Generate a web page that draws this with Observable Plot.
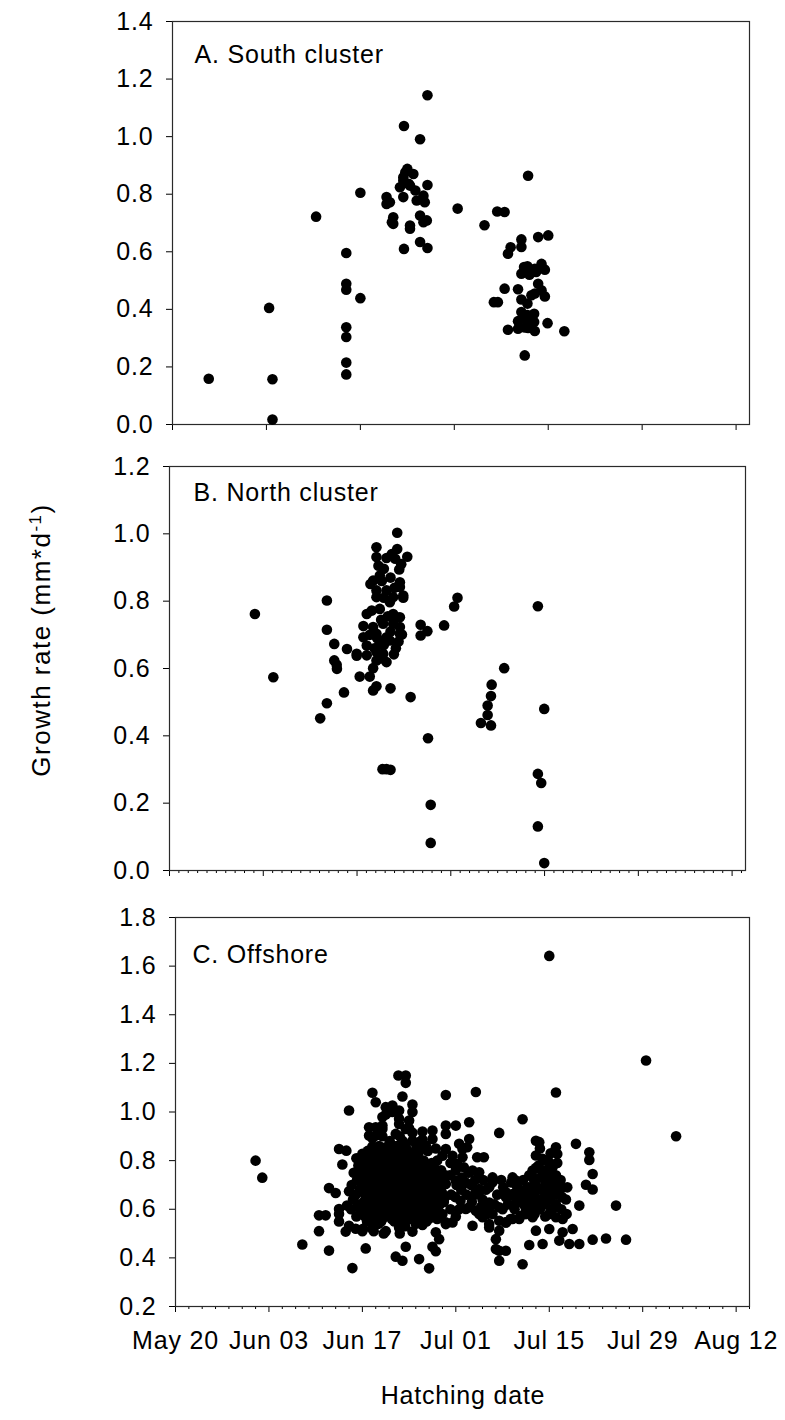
<!DOCTYPE html>
<html>
<head>
<meta charset="utf-8">
<script src="https://cdn.jsdelivr.net/npm/d3@7"></script>
<script src="https://cdn.jsdelivr.net/npm/@observablehq/plot@0.6"></script>
<style>
  body { margin: 0; background: #fff; }
  #fig { position: relative; width: 785px; height: 1420px; font-family: "Liberation Sans", Arial, sans-serif; color: #000; }
  #fig .panel { position: absolute; left: 0; }
  #fig .axis-title { position: absolute; font-size: 25px; line-height: 25px; letter-spacing: 0.8px; white-space: nowrap; text-align: center; }
  #fig .axis-title.y { font-size: 26px; line-height: 26px; letter-spacing: 1.5px; }
  #fig .axis-title sup { font-size: 17px; line-height: 0; vertical-align: 0.55em; }
</style>
</head>
<body>
<div id="fig"></div>
<script>
// Hatching date is stored as days after May 20; growth rate in mm per day.
const seasonLengthDays = 86;
const majorTickDays = [0, 14, 28, 42, 56, 70, 84];
const majorTickLabels = ["May 20", "Jun 03", "Jun 17", "Jul 01", "Jul 15", "Jul 29", "Aug 12"];

const yTicksSouth = [0.0, 0.2, 0.4, 0.6, 0.8, 1.0, 1.2, 1.4];
const yTicksNorth = [0.0, 0.2, 0.4, 0.6, 0.8, 1.0, 1.2];
const yTicksOffshore = [0.2, 0.4, 0.6, 0.8, 1.0, 1.2, 1.4, 1.6, 1.8];

const panelTitles = ["A. South cluster", "B. North cluster", "C. Offshore"];

// [day after May 20, growth rate]
const southCluster = [
  [5.4,0.159],[14.4,0.405],[14.9,0.157],[14.9,0.017],[21.4,0.722],
  [25.9,0.596],[25.9,0.489],[25.9,0.468],[25.9,0.338],[25.9,0.304],[25.9,0.215],[25.9,0.174],
  [28.0,0.805],[28.0,0.439],
  [34.5,1.037],[38.0,1.144],[36.9,0.991],[35.0,0.888],[34.7,0.876],[35.9,0.870],[34.4,0.859],[34.4,0.847],
  [38.0,0.832],[33.9,0.824],[35.4,0.830],[36.2,0.813],[34.4,0.790],[31.9,0.790],[32.4,0.772],[31.9,0.766],
  [37.4,0.795],[36.4,0.778],[37.6,0.772],[32.9,0.720],[32.7,0.703],[32.9,0.697],[35.4,0.691],[35.4,0.680],
  [36.9,0.726],[37.9,0.709],[37.4,0.703],[34.5,0.610],[36.9,0.634],[38.0,0.613],[35.2,0.836],
  [42.5,0.750],[46.5,0.692],[48.4,0.740],[49.5,0.738],[53.0,0.864],
  [52.0,0.643],[54.5,0.651],[56.0,0.657],[50.4,0.616],[52.0,0.617],[50.0,0.593],[52.9,0.550],[52.4,0.547],
  [55.0,0.558],[55.5,0.538],[54.0,0.541],[52.0,0.524],[54.5,0.489],[49.5,0.472],[51.5,0.470],[55.0,0.466],
  [55.5,0.445],[53.5,0.449],[54.0,0.455],[52.0,0.434],[47.9,0.425],[48.5,0.425],[52.9,0.420],[52.0,0.391],
  [53.9,0.385],[52.5,0.368],[51.5,0.359],[53.9,0.356],[55.9,0.352],[50.0,0.329],[51.5,0.333],[52.5,0.337],
  [54.0,0.325],[58.4,0.324],[52.5,0.240],[52.9,0.380],[53.4,0.350],[53.0,0.335],[53.2,0.520],[54.2,0.530]
];

const northCluster = [
  [12.75,0.762],[15.5,0.574],[22.5,0.452],[23.5,0.497],[23.5,0.802],[23.5,0.715],[24.6,0.673],[24.6,0.624],
  [24.96,0.611],[25.0,0.599],[26.05,0.529],[26.5,0.658],[27.95,0.638],[28.4,0.576],[29.9,0.576],[30.4,0.601],
  [30.4,0.535],[30.9,0.547],[33.0,0.541],[36.0,0.515],[31.8,0.301],[32.4,0.301],[33.0,0.299],[38.6,0.393],
  [39.0,0.195],[39.0,0.082],[37.5,0.730],[37.5,0.698],[38.5,0.711],[41.0,0.728],[42.5,0.784],[43.0,0.810],
  [46.5,0.438],[48.0,0.431],[47.5,0.462],[47.5,0.490],[48.0,0.518],[48.1,0.552],[49.97,0.601],
  [55.0,0.785],[55.95,0.480],[55.0,0.287],[55.5,0.260],[55.0,0.131],[55.95,0.022],
  [34.0,1.003],[30.9,0.960],[34.0,0.955],[30.9,0.931],[32.4,0.928],[35.5,0.932],[33.7,0.926],[32.0,0.896],
  [34.3,0.894],[31.4,0.876],[30.4,0.861],[30.0,0.851],[34.4,0.856],[30.9,0.832],[32.4,0.832],[34.9,0.810],
  [33.4,0.812],[30.9,0.812],[32.9,0.797],[29.45,0.762],[30.2,0.772],[31.4,0.777],[33.4,0.762],[33.9,0.752],
  [28.95,0.726],[30.4,0.723],[31.9,0.733],[33.4,0.733],[34.4,0.723],[28.95,0.693],[30.9,0.703],[32.4,0.693],
  [34.7,0.701],[29.45,0.668],[31.4,0.673],[32.9,0.683],[27.95,0.644],[29.45,0.639],[30.9,0.649],[31.9,0.644],
  [33.5,0.642],[32.4,0.619],[30.9,0.624],[34.4,0.842],[34.9,0.817],[34.4,0.752],[34.4,0.703],
  [31.6,0.745],[32.6,0.755],[31.0,0.690],[32.0,0.670],[33.0,0.710],[29.9,0.700],[30.6,0.660],[31.7,0.860],
  [33.0,0.870],[32.0,0.810],[33.6,0.840],[31.2,0.905],[33.2,0.940],[34.6,0.910],[31.8,0.630],[33.8,0.660],[34.2,0.680]
];

const offshore = [
  // early hatchers
  [12.0,0.800],[13.0,0.730],[19.0,0.455],[21.5,0.575],[22.5,0.575],[21.5,0.510],[23.0,0.430],[23.0,0.687],
  [24.0,0.667],[24.5,0.848],[25.6,0.841],[25.0,0.784],[26.0,1.006],[24.5,0.601],[24.5,0.580],[24.5,0.550],
  [26.0,0.674],[25.7,0.615],[25.5,0.508],[26.0,0.532],[26.5,0.358],[28.5,0.439],
  // upper edge of the main cohort
  [28.0,0.828],[29.0,0.800],[29.5,1.079],[30.0,1.040],[29.0,0.937],[30.0,0.937],[31.0,0.930],[29.5,0.892],
  [30.0,0.828],[31.0,0.979],[31.5,1.020],[32.5,1.027],[33.5,1.006],[33.4,1.150],[34.5,1.150],[34.5,1.120],
  [34.0,1.064],[35.5,1.031],[33.5,0.951],[35.0,0.965],[34.5,0.930],[35.5,0.915],[37.0,0.920],[38.5,0.924],
  [36.5,0.876],[31.5,0.990],[32.5,1.000],[33.5,0.972],[35.5,1.000],[31.0,0.944],[35.0,0.933],[29.0,0.903],
  [30.0,0.903],[31.0,0.900],[33.0,0.910],[34.0,0.882],[35.5,0.882],[37.0,0.887],[38.5,0.889],[29.5,0.858],
  [31.5,0.855],[32.5,0.841],[34.5,0.855],[36.5,0.841],[37.5,0.862],[40.5,0.910],
  // lower edge of the main cohort
  [38.0,0.562],[37.0,0.535],[39.0,0.505],[39.5,0.477],[38.5,0.446],[39.0,0.427],[35.5,0.508],[34.5,0.446],
  [33.0,0.405],[34.0,0.388],[36.5,0.395],[38.0,0.357],[27.0,0.520],[28.0,0.510],[29.5,0.520],[31.5,0.510],
  [33.5,0.525],[30.2,0.540],
  // core of the main cohort
  [26.3,0.60],[26.6,0.64],[26.4,0.70],[26.7,0.75],
  [27.1,0.57],[27.3,0.62],[27.0,0.66],[27.2,0.72],[27.4,0.78],[27.1,0.81],
  [28.1,0.52],[27.9,0.59],[28.2,0.63],[28.0,0.68],[27.8,0.71],[28.1,0.74],[28.3,0.77],
  [28.7,0.55],[28.9,0.60],[28.6,0.65],[28.8,0.69],[29.0,0.73],[28.7,0.76],[28.9,0.80],[28.8,0.84],
  [29.7,0.51],[29.5,0.58],[29.8,0.62],[29.6,0.66],[29.4,0.70],[29.7,0.74],[29.6,0.78],[29.8,0.82],
  [30.4,0.54],[30.6,0.57],[30.3,0.61],[30.5,0.64],[30.2,0.68],[30.4,0.72],[30.6,0.75],[30.3,0.79],[30.5,0.86],
  [31.2,0.50],[31.0,0.56],[31.3,0.60],[31.1,0.63],[31.4,0.67],[31.2,0.71],[31.0,0.74],[31.3,0.77],[31.1,0.81],[31.4,0.84],
  [32.0,0.58],[32.2,0.62],[31.9,0.65],[32.1,0.69],[31.8,0.73],[32.0,0.76],[32.2,0.80],[31.9,0.83],[32.1,0.88],
  [32.8,0.55],[32.6,0.59],[32.9,0.63],[32.7,0.67],[33.0,0.70],[32.8,0.74],[32.6,0.78],[32.9,0.82],[32.7,0.86],
  [33.6,0.50],[33.8,0.57],[33.5,0.61],[33.7,0.65],[33.4,0.68],[33.6,0.72],[33.8,0.75],[33.5,0.79],[33.7,0.84],[33.6,0.90],
  [34.4,0.53],[34.2,0.58],[34.5,0.62],[34.3,0.66],[34.6,0.70],[34.4,0.73],[34.2,0.77],[34.5,0.81],[34.3,0.87],
  [35.2,0.56],[35.0,0.60],[35.3,0.64],[35.1,0.68],[35.4,0.71],[35.2,0.75],[35.0,0.79],[35.3,0.83],
  [36.0,0.54],[36.2,0.58],[35.9,0.62],[36.1,0.66],[35.8,0.69],[36.0,0.73],[36.2,0.77],[35.9,0.82],[36.1,0.86],
  [36.8,0.57],[36.6,0.61],[36.9,0.65],[36.7,0.70],[37.0,0.74],[36.8,0.78],[36.6,0.80],
  [37.6,0.55],[37.8,0.60],[37.5,0.63],[37.7,0.67],[37.4,0.72],[37.6,0.76],[37.8,0.84],
  [38.4,0.58],[38.2,0.62],[38.5,0.66],[38.3,0.70],[38.6,0.75],[38.4,0.79],
  [39.2,0.56],[39.0,0.60],[39.3,0.64],[39.1,0.69],[39.4,0.73],[39.2,0.80],[39.0,0.85],
  [40.0,0.58],[40.2,0.63],[39.9,0.67],[40.1,0.71],[39.8,0.76],[40.0,0.82],
  [27.6,0.60],[27.6,0.68],[27.7,0.75],
  [28.4,0.57],[28.4,0.66],[28.5,0.72],[28.3,0.80],
  [29.2,0.56],[29.2,0.63],[29.1,0.71],[29.3,0.77],
  [30.0,0.59],[30.0,0.66],[29.9,0.70],[30.0,0.77],[30.1,0.83],
  [30.8,0.55],[30.8,0.62],[30.9,0.66],[30.7,0.70],[30.8,0.79],[30.9,0.83],
  [31.6,0.58],[31.6,0.65],[31.7,0.69],[31.6,0.75],[31.6,0.79],
  [32.4,0.56],[32.4,0.61],[32.3,0.67],[32.5,0.71],[32.4,0.78],[32.4,0.84],
  [33.2,0.57],[33.2,0.61],[33.1,0.66],[33.3,0.72],[33.2,0.77],[33.2,0.86],
  [34.0,0.55],[34.0,0.60],[34.1,0.64],[33.9,0.70],[34.0,0.75],[34.0,0.80],
  [34.8,0.57],[34.8,0.63],[34.9,0.68],[34.7,0.72],[34.8,0.77],[34.8,0.84],
  [35.6,0.58],[35.6,0.62],[35.7,0.66],[35.5,0.71],[35.6,0.75],[35.6,0.80],
  [36.4,0.56],[36.4,0.60],[36.5,0.64],[36.3,0.68],[36.4,0.72],[36.4,0.76],[36.4,0.83],
  [37.2,0.59],[37.2,0.65],[37.3,0.69],[37.1,0.76],[37.2,0.80],
  [38.0,0.61],[38.0,0.65],[38.1,0.69],[37.9,0.73],[38.0,0.78],
  [38.8,0.60],[38.8,0.67],[38.8,0.72],[38.8,0.77],
  [39.6,0.62],[39.6,0.70],[39.6,0.75],[40.4,0.65],[40.4,0.74],
  // early July
  [40.5,1.070],[40.5,0.944],[42.0,0.944],[40.5,0.848],[40.5,0.546],[45.0,1.082],[48.5,0.914],[44.0,0.958],
  [44.0,0.889],[45.2,0.814],[46.2,0.814],[42.5,0.869],[43.0,0.848],[47.5,0.731],[47.5,0.711],[45.5,0.683],
  [45.5,0.670],[41.5,0.820],[43.0,0.814],[43.7,0.855],[42.2,0.786],[43.2,0.773],[44.5,0.759],[45.5,0.752],
  [42.0,0.718],[40.5,0.704],[42.7,0.635],[44.0,0.608],[45.0,0.594],[45.5,0.580],[46.0,0.567],[46.7,0.580],
  [47.0,0.628],[48.5,0.608],[49.5,0.649],[50.5,0.663],[45.0,0.676],[43.5,0.601],[41.5,0.546],[40.5,0.539],
  [47.0,0.525],[47.0,0.539],[44.5,0.532],[49.5,0.546],[48.5,0.553],[48.0,0.477],[48.5,0.512],[48.5,0.429],
  [48.0,0.436],[49.5,0.429],[48.5,0.388],[52.0,0.374],
  [41.2,0.60],[41.3,0.66],[41.1,0.74],[41.2,0.79],[42.0,0.57],[41.9,0.65],[42.1,0.70],[42.0,0.76],
  [42.8,0.68],[42.9,0.73],[43.6,0.66],[43.5,0.71],[44.4,0.63],[44.3,0.70],[46.0,0.64],[46.1,0.72],
  [47.0,0.69],[49.0,0.60],[49.1,0.69],
  [46.8,0.60],[47.8,0.62],[48.2,0.66],[49.8,0.62],[50.8,0.60],[51.2,0.69],[50.3,0.71],[48.8,0.72],
  [47.5,0.58],[46.5,0.68],[45.8,0.61],[44.8,0.66],[44.9,0.72],[43.9,0.75],[43.0,0.70],[42.5,0.60],
  // mid-July cohort
  [52.0,0.970],[54.0,0.882],[54.5,0.876],[57.0,0.855],[57.2,0.827],[54.0,0.821],[53.5,0.759],[53.5,0.731],
  [50.5,0.731],[51.0,0.718],[53.0,0.453],[55.0,0.457],[54.0,0.512],[56.0,0.519],[57.5,0.471],[58.0,0.505],
  [53.5,0.567],[51.5,0.560],[50.5,0.560],[49.5,0.546],[55.0,0.807],[56.0,0.793],[56.5,0.773],[55.0,0.759],
  [56.0,0.745],[57.0,0.731],[55.5,0.718],[56.5,0.704],[57.5,0.711],[57.7,0.683],[56.7,0.663],[55.7,0.676],
  [54.2,0.690],[53.2,0.670],[52.5,0.656],[51.5,0.656],[53.5,0.635],[54.5,0.615],[55.5,0.628],[56.5,0.601],
  [56.0,0.580],[57.0,0.567],[58.0,0.560],[52.5,0.601],[51.5,0.649],[49.5,0.670],[50.0,0.656],[51.0,0.628],
  [52.5,0.580],[51.7,0.573],[50.2,0.560],
  [52.2,0.62],[52.3,0.68],[52.1,0.72],[53.0,0.60],[53.1,0.64],[52.9,0.69],[53.0,0.74],
  [53.8,0.58],[53.9,0.62],[53.7,0.66],[53.8,0.71],[54.0,0.77],[54.6,0.60],[54.5,0.64],[54.7,0.68],
  [54.6,0.73],[54.4,0.78],[54.6,0.85],[55.4,0.57],[55.3,0.62],[55.5,0.66],[55.4,0.70],[55.2,0.75],
  [55.4,0.80],[56.2,0.59],[56.1,0.64],[56.3,0.68],[56.2,0.72],[56.0,0.77],[56.2,0.83],[57.0,0.62],
  [57.1,0.66],[56.9,0.70],[57.0,0.74],[57.2,0.79],[57.8,0.60],[57.9,0.65],[57.7,0.72],[58.6,0.58],
  [58.5,0.64],[58.7,0.69],
  // late hatchers
  [56.0,1.642],[57.0,1.080],[60.0,0.869],[62.0,0.834],[62.0,0.803],[62.5,0.745],[61.5,0.701],[62.5,0.681],
  [60.5,0.615],[66.0,0.615],[62.5,0.475],[64.5,0.480],[67.5,0.475],[59.5,0.519],[59.0,0.457],[60.5,0.457],
  [70.5,1.212],[75.0,0.900]
];

const FONT = '"Liberation Sans", Arial, Helvetica, sans-serif';
const DAY = 864e5;
const seasonStart = Date.UTC(2000, 4, 20);
const toDate = (d) => new Date(seasonStart + d * DAY);
const xDomain = [toDate(0), toDate(seasonLengthDays)];
const majorTicks = majorTickDays.map(toDate);
const tickLabelOf = new Map(majorTicks.map((t, i) => [+t, majorTickLabels[i]]));

function panel({points, yDomain, yTicks, title, height, mt, mb, ml, mr, titleDx, titleDy, minorPerInterval, showDates}) {
  const minor = [];
  if (minorPerInterval) {
    const step = 14 / (minorPerInterval + 1);
    for (let k = 1; k * step < seasonLengthDays + 1e-9; k++) {
      if (k % (minorPerInterval + 1) !== 0) minor.push(toDate(k * step));
    }
  }
  return Plot.plot({
    width: 785,
    height,
    marginTop: mt,
    marginBottom: mb,
    marginLeft: ml,
    marginRight: mr,
    style: {fontFamily: FONT, fontSize: "25px", letterSpacing: "0.8px", color: "#000", background: "transparent", overflow: "visible"},
    x: {type: "utc", domain: xDomain},
    y: {type: "linear", domain: yDomain},
    marks: [
      Plot.axisY({ticks: yTicks, tickSize: 6, tickPadding: 13, tickFormat: d3.format(".1f"), label: null, fontSize: 25}),
      Plot.axisX({ticks: majorTicks, tickSize: 6, tickPadding: 19, label: null, fontSize: 25,
        tickFormat: showDates ? (t) => tickLabelOf.get(+t) : () => ""}),
      minor.length ? Plot.axisX({ticks: minor, tickSize: 3, tickFormat: () => "", label: null}) : null,
      Plot.frame({stroke: "#2a2a2a", strokeWidth: 1.2}),
      Plot.dot(points, {x: (p) => toDate(p[0]), y: (p) => p[1], r: 5.3, fill: "#000", stroke: "none"}),
      Plot.text([title], {frameAnchor: "top-left", dx: titleDx, dy: titleDy, lineAnchor: "top", textAnchor: "start", fontSize: 25, fill: "#000"})
    ]
  });
}

const fig = document.getElementById("fig");

const panels = [
  {top: 0, opts: {points: southCluster, yDomain: [0, 1.4], yTicks: yTicksSouth, title: panelTitles[0], height: 440, mt: 21, mb: 16, ml: 172, mr: 36, titleDx: 22, titleDy: 24, minorPerInterval: 0, showDates: false}},
  {top: 440, opts: {points: northCluster, yDomain: [0, 1.2], yTicks: yTicksNorth, title: panelTitles[1], height: 440, mt: 26, mb: 10, ml: 169, mr: 40, titleDx: 24, titleDy: 17, minorPerInterval: 9, showDates: false}},
  {top: 880, opts: {points: offshore, yDomain: [0.2, 1.8], yTicks: yTicksOffshore, title: panelTitles[2], height: 540, mt: 37, mb: 114, ml: 175, mr: 36, titleDx: 17, titleDy: 28, minorPerInterval: 6, showDates: true}}
];

for (const {top, opts} of panels) {
  const wrap = document.createElement("div");
  wrap.className = "panel";
  wrap.style.top = top + "px";
  wrap.appendChild(panel(opts));
  fig.appendChild(wrap);
}

// Shared axis titles
const xTitle = document.createElement("div");
xTitle.className = "axis-title";
xTitle.textContent = "Hatching date";
xTitle.style.left = (463 - 150) + "px";
xTitle.style.width = "300px";
xTitle.style.top = "1383px";
fig.appendChild(xTitle);

const yTitle = document.createElement("div");
yTitle.className = "axis-title y";
yTitle.innerHTML = "Growth rate (mm*d<sup>-1</sup>)";
yTitle.style.width = "400px";
yTitle.style.height = "26px";
yTitle.style.left = (41 - 200) + "px";
yTitle.style.top = (640 - 13) + "px";
yTitle.style.transform = "rotate(-90deg)";
yTitle.style.transformOrigin = "50% 50%";
fig.appendChild(yTitle);
</script>
</body>
</html>
